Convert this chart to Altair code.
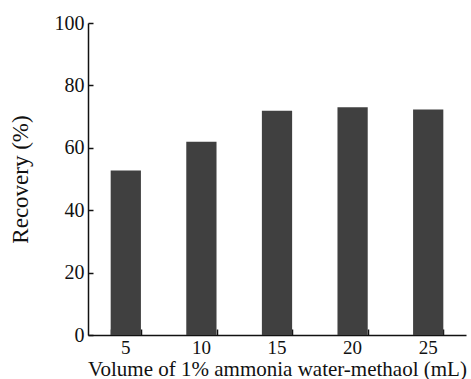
import altair as alt
import pandas as pd

volumes = ["5", "10", "15", "20", "25"]
recovery = [52.7, 61.9, 71.9, 73.0, 72.3]
y_ticks = [0, 20, 40, 60, 80, 100]

df = pd.DataFrame({"volume": volumes, "recovery": recovery})

FONT = "Liberation Serif"

x_scale = alt.Scale(domain=volumes, paddingInner=0.6, paddingOuter=0.3)
y_scale = alt.Scale(domain=[0, 100], nice=False)

bars = alt.Chart(df).mark_bar(color="#404040").encode(
    x=alt.X("volume:N", scale=x_scale, sort=volumes,
            axis=alt.Axis(title="Volume of 1% ammonia water-methaol (mL)",
                          labelAngle=0, ticks=False, labelPadding=3,
                          labelFontSize=19, titleFontSize=21,
                          labelFont=FONT, titleFont=FONT,
                          titlePadding=1, domainColor="#111",
                          domainWidth=1.5)),
    y=alt.Y("recovery:Q", scale=y_scale,
            axis=alt.Axis(title="Recovery (%)", values=y_ticks, ticks=False,
                          labelPadding=4, labelFontSize=20, titleFontSize=23,
                          labelFont=FONT, titleFont=FONT,
                          titlePadding=22, grid=False, domainColor="#111",
                          domainWidth=1.5)),
)

ticks_layer = alt.Chart(df).mark_bar(opacity=0).encode(
    x=alt.X("volume:N", scale=x_scale, sort=volumes,
            axis=alt.Axis(orient="bottom", offset=-6, tickSize=6, labels=False,
                          domain=False, title=None, tickBand="extent",
                          tickColor="#111", tickWidth=1.5)),
    y=alt.Y("recovery:Q", scale=y_scale,
            axis=alt.Axis(orient="left", offset=-5, tickSize=5, labels=False,
                          domain=False, title=None, values=y_ticks, grid=False,
                          tickColor="#111", tickWidth=1.5)),
)

chart = alt.layer(bars, ticks_layer).resolve_axis(
    x="independent", y="independent"
).properties(
    width=378, height=312,
    autosize=alt.AutoSizeParams(type="none"),
    padding={"left": 88, "top": 23, "right": 5, "bottom": 44},
).configure_view(stroke=None).configure_axis(
    labelFont=FONT, titleFont=FONT, labelColor="#111", titleColor="#111",
    titleFontWeight="normal", grid=False
)

chart.save("out.html", embed_options={"renderer": "svg", "actions": False})
